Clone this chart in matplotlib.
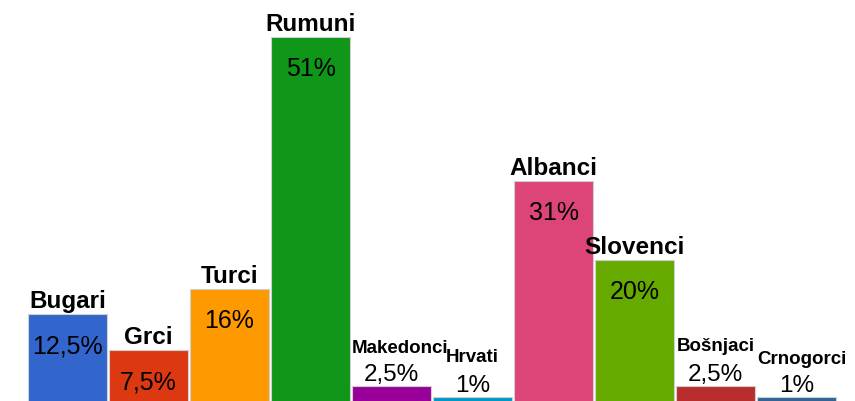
import numpy as np
from matplotlib import pyplot as plt

# data
names = ["Bugari", "Grci", "Turci", "Rumuni", "Makedonci", "Hrvati",
         "Albanci", "Slovenci", "Bošnjaci", "Crnogorci"]
values = [12.5, 7.5, 16, 51, 2.5, 1, 31, 20, 2.5, 1]
labels = ["12,5%", "7,5%", "16%", "51%", "2,5%", "1%",
          "31%", "20%", "2,5%", "1%"]
colors = ["#3366cc", "#dc3912", "#ff9900", "#109618", "#990099",
          "#0099c6", "#dd4477", "#66aa00", "#b82e2e", "#316395"]

plt.rcParams['font.family'] = ['Liberation Sans', 'DejaVu Sans']

fig = plt.figure(figsize=(8.55, 4.02), dpi=100)
ax = fig.add_axes([0, 0, 1, 1])

x = np.arange(len(names))
w = 0.975
ax.bar(x, values, width=w, color=colors, edgecolor="#d0d0d0", linewidth=0.8)

px = 72. / 100  # one pixel in points
for i, (n, v, lab) in enumerate(zip(names, values, labels)):
    if v < 5:
        # small bars: percent sits on top of the bar, name above it
        ax.annotate(lab, (i, v), xytext=(0, 6 * px), textcoords="offset points",
                    ha="center", va="baseline", fontsize=17.5, color="black")
        # long names start at the bar's left edge instead of being centred
        if len(n) > 8:
            ax.annotate(n, (i - w / 2, v), xytext=(0, 34 * px),
                        textcoords="offset points", ha="left", va="baseline",
                        fontsize=13.5, fontweight="bold", color="black")
        else:
            ax.annotate(n, (i, v), xytext=(0, 36 * px), textcoords="offset points",
                        ha="center", va="baseline", fontsize=13.5,
                        fontweight="bold", color="black")
    else:
        ax.annotate(n, (i, v), xytext=(0, 7 * px), textcoords="offset points",
                    ha="center", va="baseline", fontsize=17.5, fontweight="bold",
                    color="black")
        ax.annotate(lab, (i, v), xytext=(0, -38 * px), textcoords="offset points",
                    ha="center", va="baseline", fontsize=18, color="black")

ax.set_xlim(-0.833, 9.72)
ax.set_ylim(0.42, 56.25)
ax.axis("off")

fig.savefig("out.png", dpi=100)
